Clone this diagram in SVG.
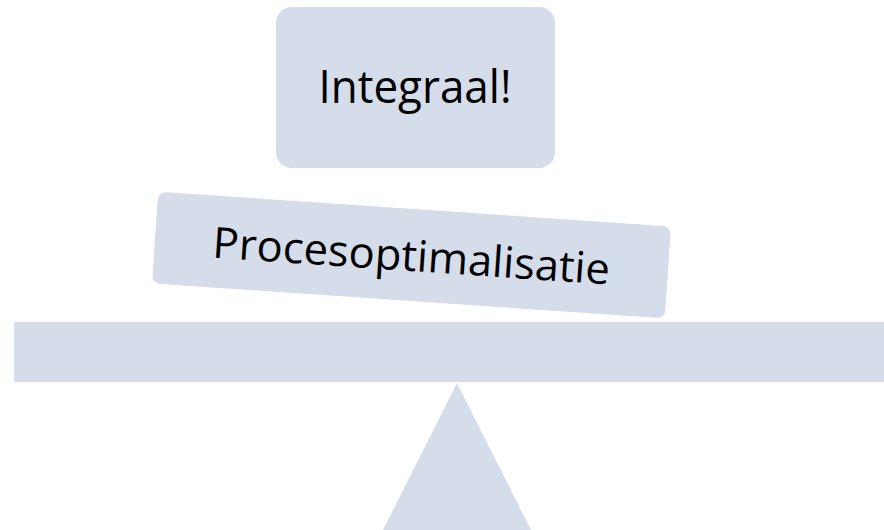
<svg xmlns="http://www.w3.org/2000/svg" width="884" height="530" viewBox="0 0 884 530">
<style>
.shape{fill:#D5DCEA;}
.lbl{font-family:"Open Sans","Liberation Sans",sans-serif;fill:#000;text-anchor:middle;}
</style>
<rect width="884" height="530" fill="#fff"/>
<g id="fulcrum"><polygon class="shape" points="457,383 531,530 383,530"/></g>
<g id="beam"><rect class="shape" x="14" y="322" width="870" height="60"/></g>
<g id="proces" transform="translate(411.5,255) rotate(3.9)">
<rect class="shape" x="-257" y="-46" width="514" height="92" rx="8"/>
<text class="lbl" x="0" y="16" font-size="43" textLength="398" lengthAdjust="spacingAndGlyphs">Procesoptimalisatie</text>
</g>
<g id="integraal">
<rect class="shape" x="276" y="7" width="279" height="161" rx="16"/>
<text class="lbl" x="415" y="103" font-size="46" textLength="193" lengthAdjust="spacingAndGlyphs">Integraal!</text>
</g>
<g id="connectors"></g>
</svg>
